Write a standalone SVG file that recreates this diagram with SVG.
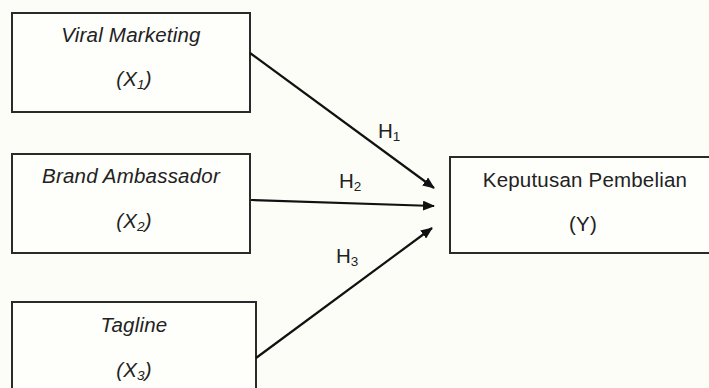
<svg xmlns="http://www.w3.org/2000/svg" width="709" height="388" viewBox="0 0 709 388">
<style>
.box{fill:#fefefb;stroke:#2a2a2a;stroke-width:2}
.t{font-family:"Liberation Sans",Arial,sans-serif;font-size:20.5px;letter-spacing:0.2px;fill:#222;text-anchor:middle}
.i{font-style:italic}
.h{font-family:"Liberation Sans",Arial,sans-serif;font-size:20.5px;fill:#222}
.c{stroke:#111;stroke-width:2.2;fill:none;marker-end:url(#ah)}
</style>
<defs>
<marker id="ah" viewBox="0 0 12 10" refX="11" refY="5" markerWidth="12" markerHeight="10" markerUnits="userSpaceOnUse" orient="auto">
<path d="M0,0 L12,5 L0,10 Z" fill="#111"/>
</marker>
</defs>
<rect width="709" height="388" fill="#fdfdf8"/>
<g id="x1">
<rect class="box" x="12" y="13" width="238" height="99"/>
<text class="t i" x="131" y="42">Viral Marketing</text>
<text class="t i" x="134" y="86">(X<tspan font-size="13.5" dy="3">1</tspan><tspan dy="-3">)</tspan></text>
</g>
<g id="x2">
<rect class="box" x="12" y="154" width="238" height="99"/>
<text class="t i" x="131" y="183">Brand Ambassador</text>
<text class="t i" x="134" y="228">(X<tspan font-size="13.5" dy="3">2</tspan><tspan dy="-3">)</tspan></text>
</g>
<g id="x3">
<rect class="box" x="12" y="302" width="244" height="100"/>
<text class="t i" x="134" y="332">Tagline</text>
<text class="t i" x="134" y="377">(X<tspan font-size="13.5" dy="3">3</tspan><tspan dy="-3">)</tspan></text>
</g>
<g id="y">
<rect class="box" x="450" y="157" width="270" height="96"/>
<text class="t" x="585" y="187">Keputusan Pembelian</text>
<text class="t" x="583" y="231">(Y)</text>
</g>
<g id="connectors">
<line class="c" x1="250" y1="53" x2="434" y2="188"/>
<line class="c" x1="251" y1="200" x2="434" y2="206"/>
<line class="c" x1="256" y1="358" x2="432" y2="228"/>
<text class="h" x="378" y="138">H<tspan font-size="13.5" dy="3">1</tspan></text>
<text class="h" x="339" y="188">H<tspan font-size="13.5" dy="3">2</tspan></text>
<text class="h" x="336" y="263">H<tspan font-size="13.5" dy="3">3</tspan></text>
</g>
</svg>
